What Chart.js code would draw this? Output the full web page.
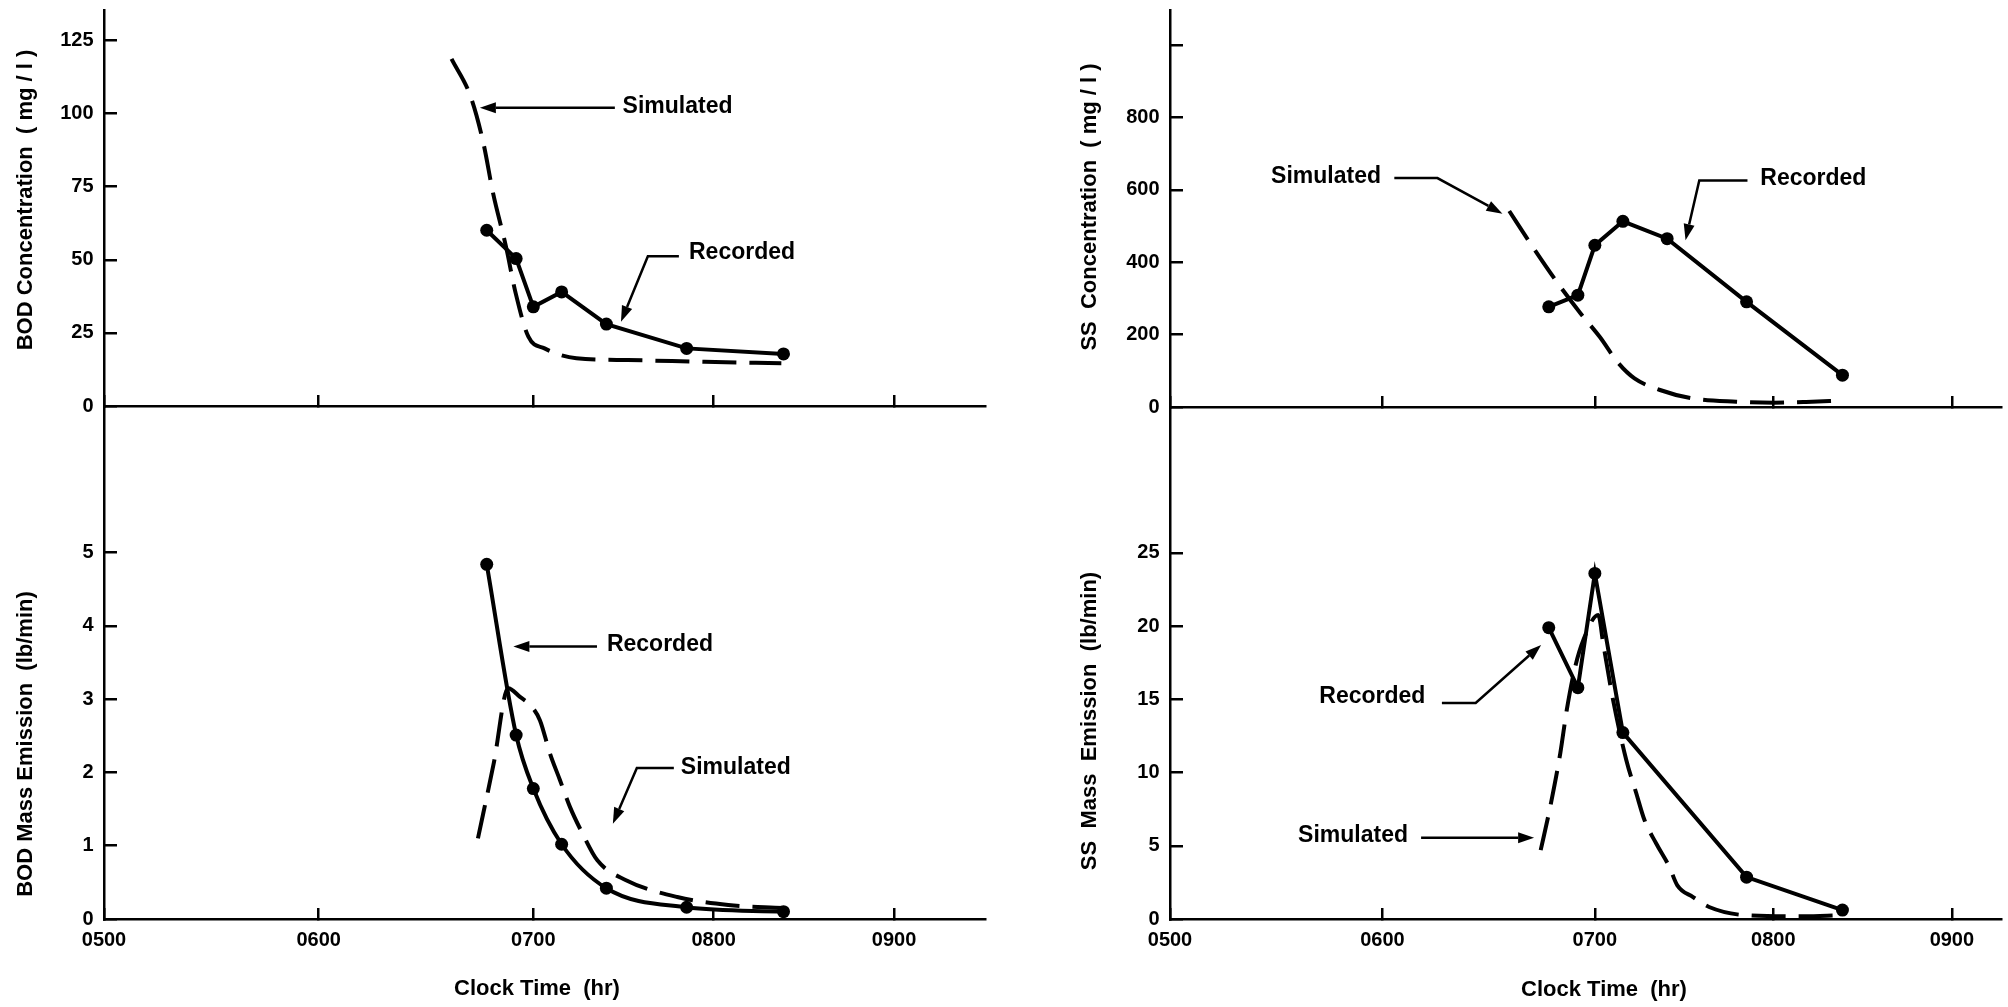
<!DOCTYPE html>
<html>
<head>
<meta charset="utf-8">
<script src="https://cdn.jsdelivr.net/npm/chart.js@4.4.1/dist/chart.umd.min.js"></script>
<style>
  html, body { margin: 0; padding: 0; background: #fff; width: 2008px; height: 1007px; overflow: hidden; }
  canvas { position: absolute; left: 0; top: 0; width: 2008px; height: 1007px; }
</style>
</head>
<body>
<canvas id="tl" width="2008" height="1007"></canvas>
<canvas id="tr" width="2008" height="1007"></canvas>
<canvas id="bl" width="2008" height="1007"></canvas>
<canvas id="br" width="2008" height="1007"></canvas>
<script>
// ---------------- data (clock time in decimal hours) ----------------
const xTickValues = [5, 6, 7, 8, 9];
const xTickLabels = ['0500', '0600', '0700', '0800', '0900'];

// sampling times of the recorded series
const sampleTimes = [6.783, 6.92, 7.0, 7.157, 7.405, 7.85, 8.387];

// BOD concentration (mg/l)
const bodConcRecorded = [60.1, 50.4, 33.9, 39.0, 28.0, 19.7, 17.8];
const bodConcSimTimes = [6.619, 6.709, 6.768, 6.813, 6.873, 6.918, 6.977, 7.062, 7.239, 7.523, 7.95, 8.375];
const bodConcSimulated = [118.7, 105.6, 89.7, 72.6, 54.4, 38.5, 23.7, 19.7, 16.3, 15.7, 15.1, 14.6];
const bodConcTicks = [0, 25, 50, 75, 100, 125];
const bodConcTickLabels = ['0', '25', '50', '75', '100', '125'];

// SS concentration (mg/l)
const ssConcRecorded = [276.7, 309, 447, 513, 465, 290.5, 88];
const ssConcSimTimes = [6.597, 6.708, 6.821, 6.933, 7.027, 7.133, 7.222, 7.365, 7.543, 7.792, 8.005, 8.183, 8.38];
const ssConcSimulated = [541.5, 442, 345.7, 258.5, 194, 120.5, 79, 47, 24, 14.6, 12, 14, 18];
const ssConcTicks = [0, 200, 400, 600, 800, 1000];
const ssConcTickLabels = ['0', '200', '400', '600', '800', ''];

// BOD mass emission (lb/min)
const bodMassRecorded = [4.84, 2.51, 1.78, 1.02, 0.42, 0.16, 0.10];
const bodMassSimTimes = [6.742, 6.816, 6.883, 6.938, 6.992, 7.037, 7.092, 7.147, 7.203, 7.27, 7.355, 7.514, 7.798, 8.081, 8.382];
const bodMassSimulated = [1.10, 2.13, 3.15, 3.03, 2.90, 2.71, 2.26, 1.90, 1.53, 1.18, 0.80, 0.53, 0.30, 0.19, 0.15];
const bodMassTicks = [0, 1, 2, 3, 4, 5];
const bodMassTickLabels = ['0', '1', '2', '3', '4', '5'];

// SS mass emission (lb/min) - no sample at the 5th time
const ssMassTimes = sampleTimes.filter((t, i) => i !== 4);
const ssMassRecorded = [19.9, 15.8, 23.6, 12.73, 2.86, 0.61];
const ssMassSimTimes = [6.745, 6.79, 6.837, 6.868, 6.907, 6.946, 7.019, 7.047, 7.102, 7.176, 7.232, 7.278, 7.343, 7.417, 7.462, 7.55, 7.64, 7.853, 8.17, 8.367];
const ssMassSimulated = [4.7, 7.67, 11.3, 14.3, 17.2, 19.06, 20.77, 18.8, 14.96, 10.86, 8.59, 6.76, 5.17, 3.57, 2.3, 1.5, 0.82, 0.25, 0.18, 0.25];
const ssMassTicks = [0, 5, 10, 15, 20, 25];
const ssMassTickLabels = ['0', '5', '10', '15', '20', '25'];

// ---------------- clock axis: the drawn hour spacing is wider before 0700 ----------------
const EARLY_WEIGHT = 1.19, BREAK_HOUR = 7;
function warp(v, min) {
  return v <= BREAK_HOUR ? (v - min) * EARLY_WEIGHT : (BREAK_HOUR - min) * EARLY_WEIGHT + (v - BREAK_HOUR);
}
function unwarp(u, min) {
  const b = (BREAK_HOUR - min) * EARLY_WEIGHT;
  return u <= b ? min + u / EARLY_WEIGHT : BREAK_HOUR + (u - b);
}
class ClockScale extends Chart.LinearScale {
  getPixelForValue(value) {
    if (value === null || value === undefined || isNaN(value)) return NaN;
    return this.getPixelForDecimal(warp(value, this.min) / warp(this.max, this.min));
  }
  getValueForPixel(pixel) {
    return unwarp(this.getDecimalForPixel(pixel) * warp(this.max, this.min), this.min);
  }
}
ClockScale.id = 'clock';
ClockScale.defaults = Chart.LinearScale.defaults;
Chart.register(ClockScale);

// ---------------- drawing ----------------
const W = 2008, H = 1007;
const FONT = '"Liberation Sans", Arial, Helvetica, sans-serif';
const zip = (t, v) => t.map((x, i) => ({ x: x, y: v[i] }));

function fixedFit(size) {
  return function (scale) {
    if (scale.isHorizontal()) scale.height = size; else scale.width = size;
    scale.paddingLeft = scale.paddingRight = scale.paddingTop = scale.paddingBottom = 0;
  };
}

function drawArrow(ctx, pts) {
  const n = pts.length;
  const [tx, ty] = pts[n - 1];
  const [px, py] = pts[n - 2];
  const ang = Math.atan2(ty - py, tx - px);
  const len = 16, hw = 5.5;
  const bx = tx - Math.cos(ang) * len, by = ty - Math.sin(ang) * len;
  ctx.beginPath();
  ctx.moveTo(pts[0][0], pts[0][1]);
  for (let i = 1; i < n - 1; i++) ctx.lineTo(pts[i][0], pts[i][1]);
  ctx.lineTo(bx, by);
  ctx.stroke();
  ctx.beginPath();
  ctx.moveTo(tx, ty);
  ctx.lineTo(bx - Math.sin(ang) * hw, by + Math.cos(ang) * hw);
  ctx.lineTo(bx + Math.sin(ang) * hw, by - Math.cos(ang) * hw);
  ctx.closePath();
  ctx.fill();
}

function notesPlugin(p) {
  return {
    id: 'notes_' + p.id,
    afterDraw(chart) {
      const ctx = chart.ctx, xs = chart.scales.x, ys = chart.scales.y;
      ctx.save();
      ctx.fillStyle = '#000';
      ctx.strokeStyle = '#000';
      ctx.lineWidth = 2.5;
      ctx.lineCap = 'butt';
      ctx.lineJoin = 'miter';
      ctx.font = 'bold 23px ' + FONT;
      ctx.textAlign = 'left';
      ctx.textBaseline = 'middle';
      for (const n of p.notes) {
        ctx.fillText(n.text, xs.getPixelForValue(n.at[0]), ys.getPixelForValue(n.at[1]));
        drawArrow(ctx, n.arrow.map(q => [xs.getPixelForValue(q[0]), ys.getPixelForValue(q[1])]));
      }
      // axis titles
      ctx.font = 'bold 22px ' + FONT;
      ctx.textAlign = 'center';
      ctx.save();
      ctx.translate(p.yTitle.x, p.yTitle.y);
      ctx.rotate(-Math.PI / 2);
      ctx.fillText(p.yTitle.text, 0, 0);
      ctx.restore();
      if (p.xTitle) ctx.fillText(p.xTitle.text, p.xTitle.x, p.xTitle.y);
      ctx.restore();
    }
  };
}

function makePanel(p) {
  new Chart(document.getElementById(p.id), {
    type: 'line',
    data: {
      datasets: [
        {
          label: 'Recorded', data: zip(p.rec.t, p.rec.v),
          borderColor: '#000', backgroundColor: '#000', borderWidth: 4,
          pointRadius: 6.5, pointHoverRadius: 6.5, pointBorderWidth: 0, pointBackgroundColor: '#000',
          cubicInterpolationMode: p.rec.smooth ? 'monotone' : 'default', tension: 0, fill: false
        },
        {
          label: 'Simulated', data: zip(p.sim.t, p.sim.v),
          borderColor: '#000', borderWidth: 4, borderDash: [34, 13],
          pointRadius: 0, pointHoverRadius: 0, cubicInterpolationMode: 'monotone', fill: false
        }
      ]
    },
    options: {
      responsive: false, animation: false, devicePixelRatio: 1, events: [],
      layout: { padding: { left: 0, top: p.area.top, right: W - p.area.right, bottom: 0 } },
      plugins: { legend: { display: false }, tooltip: { enabled: false } },
      scales: {
        x: {
          type: 'clock', min: 5, max: p.xMax,
          afterBuildTicks: s => { s.ticks = xTickValues.map(v => ({ value: v })); },
          afterFit: fixedFit(H - p.area.bottom),
          border: { display: true, color: '#000', width: 2.5 },
          grid: { display: true, drawOnChartArea: false, drawTicks: true, tickLength: -11, color: '#000', lineWidth: 2.5 },
          ticks: {
            autoSkip: false, maxRotation: 0, minRotation: 0, padding: 20, color: '#000',
            font: { family: FONT, size: 20, weight: 'bold' },
            callback: (v, i) => p.showX ? xTickLabels[i] : ''
          }
        },
        y: {
          type: 'linear', min: 0, max: p.yMax,
          afterBuildTicks: s => { s.ticks = p.yTicks.map(v => ({ value: v })); },
          afterFit: fixedFit(p.area.left),
          border: { display: true, color: '#000', width: 2.5 },
          grid: { display: true, drawOnChartArea: false, drawTicks: true, tickLength: -13, color: '#000', lineWidth: 2.5 },
          ticks: {
            padding: 23.5, color: '#000',
            font: { family: FONT, size: 20, weight: 'bold' },
            callback: (v, i) => p.yLabels[i]
          }
        }
      }
    },
    plugins: [notesPlugin(p)]
  });
}

const panels = [
  {
    id: 'tl', area: { left: 104, top: 10, right: 985, bottom: 406 }, xMax: 9.504, yMax: 135.4,
    yTicks: bodConcTicks, yLabels: bodConcTickLabels, showX: false,
    rec: { t: sampleTimes, v: bodConcRecorded, smooth: false },
    sim: { t: bodConcSimTimes, v: bodConcSimulated },
    yTitle: { text: 'BOD Concentration  ( mg / l )', x: 26, y: 200 }, xTitle: null,
    notes: [
      { text: 'Simulated', at: [7.495, 102.5], arrow: [[7.452, 102], [6.751, 102]] },
      { text: 'Recorded', at: [7.863, 52.6], arrow: [[7.807, 51.2], [7.635, 51.2], [7.486, 28.8]] }
    ]
  },
  {
    id: 'tr', area: { left: 1170, top: 10, right: 2008, bottom: 407 }, xMax: 9.278, yMax: 1097,
    yTicks: ssConcTicks, yLabels: ssConcTickLabels, showX: false,
    rec: { t: sampleTimes, v: ssConcRecorded, smooth: false },
    sim: { t: ssConcSimTimes, v: ssConcSimulated },
    yTitle: { text: 'SS  Concentration  ( mg / l )', x: 1090, y: 207 }, xTitle: null,
    notes: [
      { text: 'Simulated', at: [5.476, 637], arrow: [[6.056, 632.6], [6.259, 632.6], [6.565, 534.3]] },
      { text: 'Recorded', at: [7.927, 632], arrow: [[7.855, 626], [7.585, 626], [7.508, 461]] }
    ]
  },
  {
    id: 'bl', area: { left: 104, top: 406, right: 985, bottom: 919 }, xMax: 9.504, yMax: 7.0,
    yTicks: bodMassTicks, yLabels: bodMassTickLabels, showX: true,
    rec: { t: sampleTimes, v: bodMassRecorded, smooth: true },
    sim: { t: bodMassSimTimes, v: bodMassSimulated },
    yTitle: { text: 'BOD Mass Emission  (lb/min)', x: 26, y: 744 },
    xTitle: { text: 'Clock Time  (hr)', x: 537, y: 989 },
    notes: [
      { text: 'Recorded', at: [7.408, 3.74], arrow: [[7.353, 3.72], [6.907, 3.72]] },
      { text: 'Simulated', at: [7.818, 2.07], arrow: [[7.779, 2.06], [7.574, 2.06], [7.441, 1.30]] }
    ]
  },
  {
    id: 'br', area: { left: 1170, top: 407, right: 2008, bottom: 919 }, xMax: 9.278, yMax: 34.97,
    yTicks: ssMassTicks, yLabels: ssMassTickLabels, showX: true,
    rec: { t: ssMassTimes, v: ssMassRecorded, smooth: false },
    sim: { t: ssMassSimTimes, v: ssMassSimulated },
    yTitle: { text: 'SS  Mass  Emission  (lb/min)', x: 1090, y: 721 },
    xTitle: { text: 'Clock Time  (hr)', x: 1604, y: 990 },
    notes: [
      { text: 'Recorded', at: [5.703, 15.16], arrow: [[6.28, 14.75], [6.439, 14.75], [6.747, 18.72]] },
      { text: 'Simulated', at: [5.603, 5.67], arrow: [[6.182, 5.55], [6.714, 5.55]] }
    ]
  }
];

panels.forEach(makePanel);
</script>
</body>
</html>
